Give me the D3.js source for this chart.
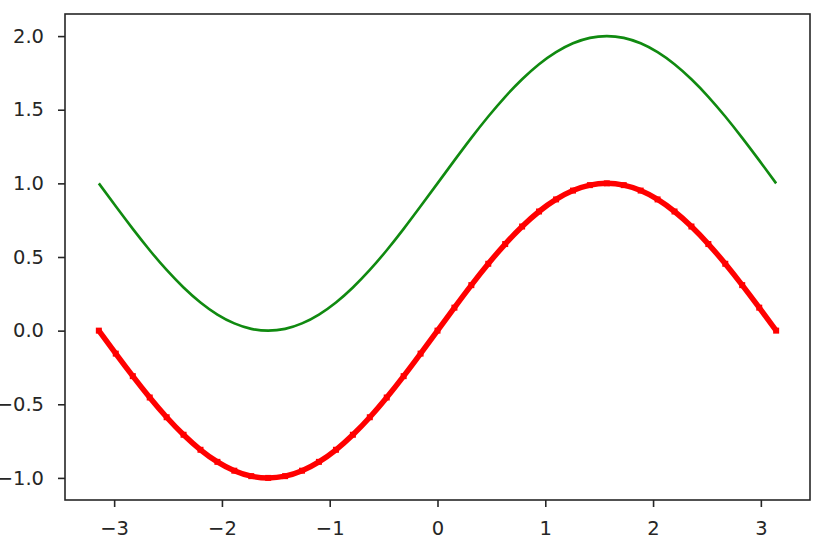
<!DOCTYPE html>
<html>
<head>
<meta charset="utf-8">
<script src="https://cdn.jsdelivr.net/npm/d3@7"></script>
<style>
  html, body { margin: 0; padding: 0; background: #fff; }
  svg text { font-family: "DejaVu Sans", sans-serif; font-size: 19.5px; fill: #262626; }
</style>
</head>
<body>
<div id="chart"></div>
<script>
// x positions (radians, -pi .. pi)
var xs = [-3.142, -2.985, -2.827, -2.670, -2.513, -2.356, -2.199, -2.042, -1.885, -1.728,
  -1.571, -1.414, -1.257, -1.100, -0.942, -0.785, -0.628, -0.471, -0.314, -0.157,
  0.000, 0.157, 0.314, 0.471, 0.628, 0.785, 0.942, 1.100, 1.257, 1.414,
  1.571, 1.728, 1.885, 2.042, 2.199, 2.356, 2.513, 2.670, 2.827, 2.985, 3.142];
// red thick curve
var redY = [0.000, -0.156, -0.309, -0.454, -0.588, -0.707, -0.809, -0.891, -0.951, -0.988,
  -1.000, -0.988, -0.951, -0.891, -0.809, -0.707, -0.588, -0.454, -0.309, -0.156,
  0.000, 0.156, 0.309, 0.454, 0.588, 0.707, 0.809, 0.891, 0.951, 0.988,
  1.000, 0.988, 0.951, 0.891, 0.809, 0.707, 0.588, 0.454, 0.309, 0.156, 0.000];
// green thin curve
var greenY = [1.000, 0.844, 0.691, 0.546, 0.412, 0.293, 0.191, 0.109, 0.049, 0.012,
  0.000, 0.012, 0.049, 0.109, 0.191, 0.293, 0.412, 0.546, 0.691, 0.844,
  1.000, 1.156, 1.309, 1.454, 1.588, 1.707, 1.809, 1.891, 1.951, 1.988,
  2.000, 1.988, 1.951, 1.891, 1.809, 1.707, 1.588, 1.454, 1.309, 1.156, 1.000];
var xTicks = [-3, -2, -1, 0, 1, 2, 3];
var yTicks = [-1.0, -0.5, 0.0, 0.5, 1.0, 1.5, 2.0];

var width = 825;
var height = 550;
var plotL = 65, plotR = 810, plotT = 14, plotB = 500;

var svg = d3.select("#chart").append("svg").attr("width", width).attr("height", height);

var x = d3.scaleLinear().domain([-3.456, 3.456]).range([plotL, plotR]);
var y = d3.scaleLinear().domain([-1.15, 2.15]).range([plotB, plotT]);

var minus = function (s) { return s.replace("-", "\u2212"); };

var xAxis = d3.axisBottom(x).tickValues(xTicks).tickSize(7).tickPadding(14)
  .tickFormat(function (d) { return minus(d3.format("d")(d)); });
var yAxis = d3.axisLeft(y).tickValues(yTicks).tickSize(7).tickPadding(14)
  .tickFormat(function (d) { return minus(d3.format(".1f")(d)); });

var gx = svg.append("g").attr("transform", "translate(0," + plotB + ")").call(xAxis);
var gy = svg.append("g").attr("transform", "translate(" + plotL + ",0)").call(yAxis);
[gx, gy].forEach(function (g) {
  g.select(".domain").remove();
  g.selectAll(".tick line").attr("stroke", "#262626").attr("stroke-width", 1.6);
  g.selectAll(".tick text").attr("font-size", 19.5).attr("fill", "#262626").attr("font-family", "DejaVu Sans, sans-serif");
});

var line = function (ys) {
  return d3.line()
    .x(function (d, i) { return x(xs[i]); })
    .y(function (d) { return y(d); })
    .curve(d3.curveNatural)(ys);
};

svg.append("path").attr("d", line(greenY))
  .attr("fill", "none").attr("stroke", "#108a10").attr("stroke-width", 2.6);

svg.append("path").attr("d", line(redY))
  .attr("fill", "none").attr("stroke", "#ff0000").attr("stroke-width", 5.5)
  .attr("stroke-linejoin", "round");

svg.selectAll("rect.pt").data(redY).enter().append("rect")
  .attr("class", "pt")
  .attr("x", function (d, i) { return x(xs[i]) - 3; })
  .attr("y", function (d) { return y(d) - 3; })
  .attr("width", 6).attr("height", 6)
  .attr("fill", "#ff0000");

svg.append("rect")
  .attr("x", plotL).attr("y", plotT)
  .attr("width", plotR - plotL).attr("height", plotB - plotT)
  .attr("fill", "none").attr("stroke", "#262626").attr("stroke-width", 1.6);
</script>
</body>
</html>
